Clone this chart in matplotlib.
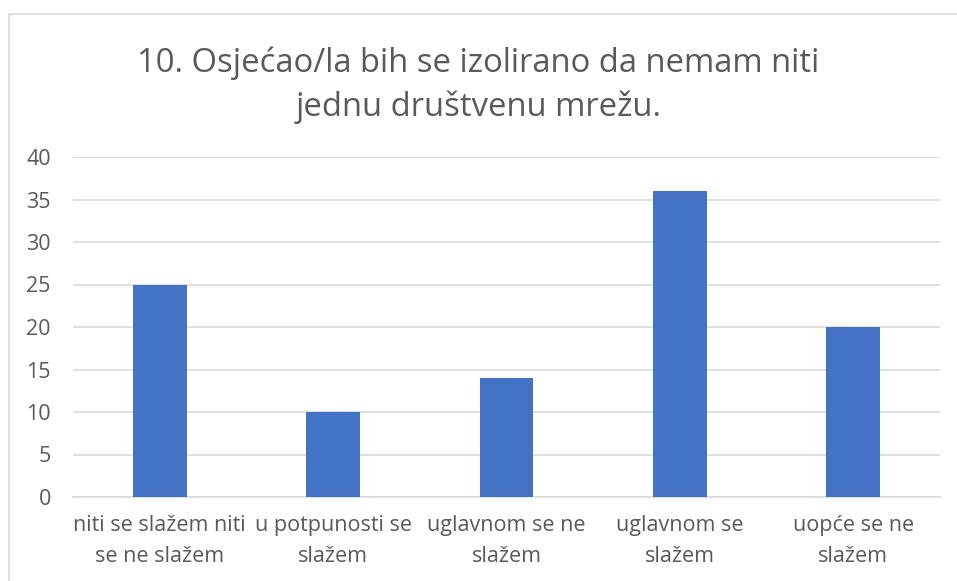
import matplotlib.pyplot as plt
from matplotlib.patches import Rectangle

categories = [
    "niti se slažem niti\nse ne slažem",
    "u potpunosti se\nslažem",
    "uglavnom se ne\nslažem",
    "uglavnom se\nslažem",
    "uopće se ne\nslažem",
]
counts = [25, 10, 14, 36, 20]
yticks = [0, 5, 10, 15, 20, 25, 30, 35, 40]
title = "10. Osjećao/la bih se izolirano da nemam niti\njednu društvenu mrežu."

plt.rcParams["font.family"] = ["Open Sans", "DejaVu Sans"]
text_color = "#595959"
grid_color = "#d9d9d9"

fig = plt.figure(figsize=(9.57, 5.81), dpi=100)
fig.patches.append(Rectangle((9 / 957, -0.1), 1.2, 1 - 14 / 581 + 0.1,
                             transform=fig.transFigure, fill=False,
                             edgecolor=grid_color, linewidth=1.2))

ax = fig.add_axes([73 / 957, 1 - 497 / 581, (940 - 73) / 957, (497 - 157) / 581])
x = range(len(categories))
ax.bar(x, counts, width=0.31, color="#4472c4", zorder=3)
ax.set_xlim(-0.5, len(categories) - 0.5)
ax.set_ylim(0, 40)
ax.set_yticks(yticks)
ax.set_xticks(list(x))
ax.set_xticklabels(categories, fontsize=15.5, color=text_color, linespacing=1.65)
ax.tick_params(axis="y", labelsize=15.5, labelcolor=text_color, length=0, pad=16)
ax.tick_params(axis="x", length=0, pad=13)
ax.grid(axis="y", color=grid_color, linewidth=1.2, zorder=0)
for s in ["top", "right", "left"]:
    ax.spines[s].set_visible(False)
ax.spines["bottom"].set_color(grid_color)
ax.spines["bottom"].set_linewidth(1.2)

fig.text(0.5, 1 - 85 / 581, title, ha="center", va="center", fontsize=23.6,
         color=text_color, linespacing=1.4)

fig.savefig("out.png", dpi=100)
